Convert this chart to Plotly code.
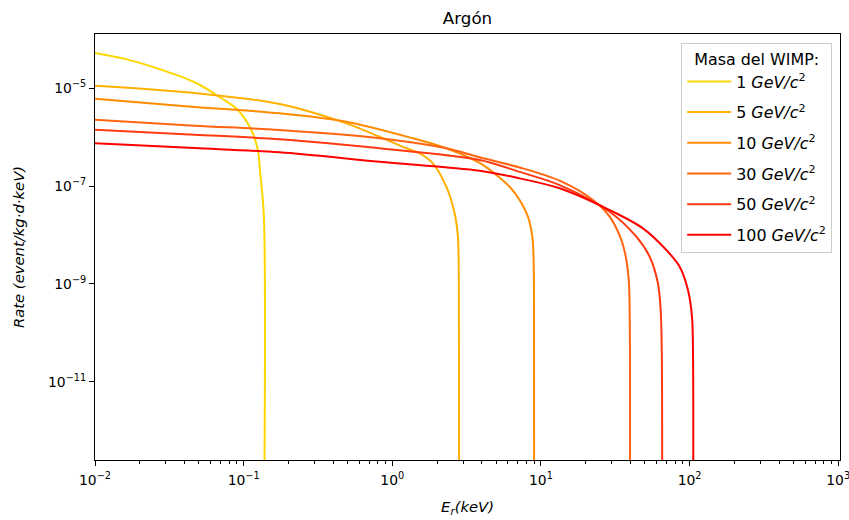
import plotly.graph_objects as go

# WIMP masses (GeV/c^2) and colours
masses = ["1", "5", "10", "30", "50", "100"]
colors = ["#FFD700", "#FFB000", "#FF8C00", "#FF6410", "#FF3A10", "#FF0000"]

# Recoil energy (keV) and rate (event/kg/d/keV)
E_1 = [0.01, 0.01662, 0.02789, 0.04672, 0.07069, 0.09141, 0.1125, 0.1246, 0.1293, 0.1368, 0.1372]
R_1 = [5.27e-5, 3.85e-5, 2.40e-5, 1.33e-5, 6.33e-6, 3.60e-6, 1.42e-6, 5.55e-7, 1.85e-7, 2.37e-8, 0]

E_5 = [0.01, 0.04672, 0.1744, 0.4903, 0.8213, 1.242, 1.527, 1.876, 2.309, 2.626, 2.764, 2.802, 2.81, 2.815]
R_5 = [1.13e-5, 8.01e-6, 4.77e-6, 1.92e-6, 1.02e-6, 5.93e-7, 4.69e-7, 2.92e-7, 9.72e-8, 2.78e-8, 9.23e-9, 1.20e-9, 4.45e-11, 0]

E_10 = [0.01, 0.04672, 0.1744, 0.4903, 1.376, 2.309, 3.868, 5.010, 6.158, 7.190, 8.176, 8.751, 8.93, 8.986, 9.0]
R_10 = [6.12e-6, 4.15e-6, 3.08e-6, 2.07e-6, 9.49e-7, 5.93e-7, 2.97e-7, 1.69e-7, 9.72e-8, 5.20e-8, 2.37e-8, 9.23e-9, 3.08e-9, 1.83e-10, 0]

E_30 = [0.01, 0.04672, 0.1744, 0.8213, 2.309, 3.868, 7.190, 13.36, 22.38, 28.99, 34.75, 37.56, 39.10, 39.71, 39.8]
R_30 = [2.28e-6, 1.72e-6, 1.40e-6, 9.49e-7, 5.93e-7, 3.88e-7, 2.40e-7, 1.29e-7, 5.20e-8, 2.37e-8, 7.91e-9, 3.08e-9, 1.03e-9, 4.45e-11, 0]

E_50 = [0.01, 0.04672, 0.1744, 0.8213, 3.868, 7.190, 13.36, 28.99, 43.85, 53.89, 61.27, 63.90, 65.0, 65.4]
R_50 = [1.42e-6, 1.125e-6, 9.06e-7, 5.93e-7, 3.42e-7, 1.95e-7, 1.05e-7, 2.99e-8, 9.23e-9, 3.60e-9, 1.03e-9, 2.92e-10, 4.45e-11, 0]

E_100 = [0.01, 0.04672, 0.1744, 0.8213, 3.868, 7.190, 13.36, 28.99, 48.58, 69.81, 85.78, 97.54, 103.8, 105.4, 105.8]
R_100 = [7.50e-7, 6.01e-7, 4.91e-7, 3.15e-7, 2.07e-7, 1.44e-7, 9.02e-8, 3.24e-8, 1.37e-8, 4.93e-9, 2.25e-9, 7.50e-10, 2.13e-10, 4.45e-11, 0]

x_tickvals = [1e-2, 1e-1, 1e0, 1e1, 1e2, 1e3]
x_ticktext = ["10<sup>\u22122</sup>", "10<sup>\u22121</sup>", "10<sup>0</sup>",
              "10<sup>1</sup>", "10<sup>2</sup>", "10<sup>3</sup>"]
y_tickvals = [1e-5, 1e-7, 1e-9, 1e-11]
y_ticktext = ["10<sup>\u22125</sup>", "10<sup>\u22127</sup>", "10<sup>\u22129</sup>", "10<sup>\u221211</sup>"]

series = [(E_1, R_1), (E_5, R_5), (E_10, R_10), (E_30, R_30), (E_50, R_50), (E_100, R_100)]

FONT = "DejaVu Sans"
FS = 13.9
LFS = 15.9
AFS = 14.8

fig = go.Figure()
for m, c, (E, R) in zip(masses, colors, series):
    # like matplotlib's log clipping: non-positive values fall off the bottom
    Rp = [r if r > 0 else 1e-14 for r in R]
    fig.add_trace(go.Scatter(
        x=E, y=Rp, mode="lines", line=dict(color=c, width=2, shape="spline", smoothing=0.9),
        name=f"{m} <i>GeV/c</i><sup>2</sup>", legendgroup=m,
    ))

minor_x = [k * 10 ** p for p in range(-2, 3) for k in range(2, 10)]

fig.update_layout(
    width=849, height=520,
    margin=dict(l=95, r=9, t=34, b=60, autoexpand=False),
    paper_bgcolor="white", plot_bgcolor="white",
    font=dict(family=FONT, size=FS, color="black"),
    title=dict(text="Argón", x=0.5, xref="paper", y=1 - 18 / 520, yref="container",
               yanchor="middle", xanchor="center", font=dict(size=16.7, color="black")),
    showlegend=True,
    legend=dict(
        title=dict(text="Masa del WIMP:", side="top center", font=dict(size=LFS)),
        x=0.9895, xanchor="right", y=0.979, yanchor="top",
        bgcolor="rgba(255,255,255,0.8)", bordercolor="#cccccc", borderwidth=1,
        font=dict(size=LFS), tracegroupgap=7, itemwidth=44,
    ),
    xaxis=dict(
        type="log", range=[-2, 3.012], automargin=False,
        showgrid=False, zeroline=False,
        showline=True, linecolor="black", linewidth=1, mirror=True,
        ticks="outside", ticklen=5, tickwidth=1, tickcolor="black",
        tickmode="array", tickvals=x_tickvals, ticktext=x_ticktext,
        ticklabelstandoff=2, ticklabeloverflow="allow",
        minor=dict(ticks="outside", ticklen=3, tickwidth=0.8, tickcolor="black",
                   tickmode="array", tickvals=minor_x, showgrid=False),
        title=dict(text="<i>E<sub>r</sub>(keV)</i>", standoff=14, font=dict(size=AFS)),
    ),
    yaxis=dict(
        type="log", range=[-12.60, -3.89], automargin=False,
        showgrid=False, zeroline=False,
        showline=True, linecolor="black", linewidth=1, mirror=True,
        ticks="outside", ticklen=5, tickwidth=1, tickcolor="black",
        tickmode="array", tickvals=y_tickvals, ticktext=y_ticktext,
        title=dict(text="<i>Rate (event/kg\u00b7d\u00b7keV)</i>", standoff=19, font=dict(size=AFS)),
    ),
)

fig.write_html("out.html")
